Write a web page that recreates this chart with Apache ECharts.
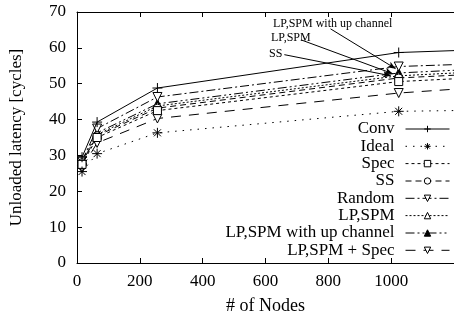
<!DOCTYPE html>
<html><head><meta charset="utf-8">
<script src="https://cdn.jsdelivr.net/npm/echarts@6/dist/echarts.min.js"></script>
<style>html,body{margin:0;padding:0;background:#fff}#c{width:454px;height:320px}</style>
</head><body><div id="c"></div>
<script>
// ---- data ----
const nodes = [16, 64, 256, 1024, 4096];
const conv = [29.5, 39.3, 48.8, 58.7, 68];
const ideal = [25.5, 30.5, 36.3, 42.3, 46];
const spec = [27.5, 35.0, 42.5, 50.6, 64];
const ss = [28.0, 35.5, 43.2, 51.6, 65];
const randomS = [28.5, 37.5, 46.3, 54.8, 64];
const lpspm = [28.0, 35.8, 43.8, 52.2, 66];
const lpspmUp = [28.5, 36.3, 44.4, 53.0, 66];
const lpspmSpec = [26.5, 33.5, 40.3, 47.4, 66];
const names = ['Conv', 'Ideal', 'Spec', 'SS', 'Random', 'LP,SPM', 'LP,SPM with up channel', 'LP,SPM + Spec'];
const xTicks = [0, 200, 400, 600, 800, 1000];
const yTicks = [0, 10, 20, 30, 40, 50, 60, 70];
// annotation arrows: [label, arrow start (x,y), arrow tip (x,y)] in data units
const notes = [
  ['LP,SPM with up channel', [807, 65.3], [1014, 54.2]],
  ['LP,SPM', [714, 62.2], [1005, 52.8]],
  ['SS', [660, 58.1], [999, 52.2]]
];

const FONT = '"Liberation Serif", "Times New Roman", serif';
const pair = arr => nodes.map((n, i) => [n, arr[i]]);
const open = { color: '#fff', borderColor: '#000', borderWidth: 1, borderType: 'solid' };
const stroke = { color: '#000', borderColor: '#000', borderWidth: 1, borderType: 'solid' };
const PLUS = 'path://M0,5L10,5M5,0L5,10';
const STAR = 'path://M0,5L10,5M5,0L5,10M1.5,1.5L8.5,8.5M1.5,8.5L8.5,1.5';

const styles = [
  { symbol: PLUS, size: 10, item: stroke, dash: 'solid' },
  { symbol: STAR, size: 10, item: stroke, dash: [1.5, 6] },
  { symbol: 'rect', size: 8, item: open, dash: [3, 3] },
  { symbol: 'circle', size: 8, item: open, dash: [6, 4] },
  { symbol: 'triangle', size: 9, rot: 180, item: open, dash: [9, 3, 2, 3] },
  { symbol: 'triangle', size: 8, item: open, dash: [2, 2] },
  { symbol: 'triangle', size: 9, item: stroke, dash: [9, 3, 2, 3, 2, 3] },
  { symbol: 'triangle', size: 9, rot: 180, item: open, dash: [10, 8] }
];
const values = [conv, ideal, spec, ss, randomS, lpspm, lpspmUp, lpspmSpec];

const series = names.map((name, i) => {
  const s = styles[i];
  const o = {
    name, type: 'line', data: pair(values[i]),
    symbol: s.symbol, symbolSize: s.size, symbolRotate: s.rot || 0,
    showAllSymbol: true,
    itemStyle: s.item,
    lineStyle: { color: '#000', width: 1, type: s.dash },
    z: 10 - i
  };
  if (name === 'LP,SPM with up channel') {
    o.markLine = {
      silent: true, symbol: ['none', 'arrow'], symbolSize: [5, 8],
      label: { show: false },
      lineStyle: { color: '#000', width: 1, type: 'solid' },
      data: notes.map(n => [{ coord: n[1] }, { coord: n[2] }])
    };
  }
  return o;
});

const rowTop = [120.5, 137.8, 155.1, 172.5, 189.8, 207.1, 224.5, 241.8];
const legends = names.map((name, i) => ({
  data: [name], right: 4, top: rowTop[i], padding: 0, align: 'right',
  itemWidth: 44, itemHeight: 8, selectedMode: false,
  itemStyle: { borderType: 'solid', borderWidth: 1 },
  lineStyle: { width: 1 },
  textStyle: { fontFamily: FONT, fontSize: 17, color: '#000', padding: [0, 6, 0, 0] }
}));

const chart = echarts.init(document.getElementById('c'), null, { renderer: 'canvas' });
chart.setOption({
  animation: false,
  backgroundColor: '#fff',
  grid: { left: 76, right: -5, top: 12, bottom: 56 },
  legend: legends,
  xAxis: [{
    type: 'value', min: 0, max: 1200, interval: 200, position: 'bottom',
    name: '# of Nodes', nameLocation: 'middle', nameGap: 34,
    nameTextStyle: { fontFamily: FONT, fontSize: 18, color: '#000' },
    axisLine: { lineStyle: { color: '#000', width: 1 } },
    axisTick: { inside: true, length: 5, lineStyle: { color: '#000' } },
    axisLabel: { fontFamily: FONT, fontSize: 17, color: '#000', margin: 10, showMaxLabel: false,
      formatter: v => xTicks.includes(v) ? String(v) : '' },
    splitLine: { show: false }
  }, {
    type: 'value', min: 0, max: 1200, interval: 200, position: 'top',
    axisLine: { show: true, lineStyle: { color: '#000', width: 1 } },
    axisTick: { inside: true, length: 5, lineStyle: { color: '#000' } },
    axisLabel: { show: false }, splitLine: { show: false }
  }],
  yAxis: [{
    type: 'value', min: 0, max: 70, interval: 10,
    name: 'Unloaded latency [cycles]', nameLocation: 'middle', nameGap: 52,
    nameTextStyle: { fontFamily: FONT, fontSize: 17, color: '#000' },
    axisLine: { show: true, lineStyle: { color: '#000', width: 1 } },
    axisTick: { show: true, inside: true, length: 5, lineStyle: { color: '#000' } },
    axisLabel: { fontFamily: FONT, fontSize: 17, color: '#000', margin: 11,
      formatter: v => yTicks.includes(v) ? String(v) : '' },
    splitLine: { show: false }
  }],
  series,
  graphic: [
    { type: 'text', x: 273, y: 24, z: 50, style: { text: 'LP,SPM with up channel', font: '12px ' + FONT, fill: '#000', verticalAlign: 'middle' } },
    { type: 'text', x: 271, y: 38, z: 50, style: { text: 'LP,SPM', font: '12px ' + FONT, fill: '#000', verticalAlign: 'middle' } },
    { type: 'text', x: 269, y: 54, z: 50, style: { text: 'SS', font: '12px ' + FONT, fill: '#000', verticalAlign: 'middle' } }
  ]
});
</script></body></html>
